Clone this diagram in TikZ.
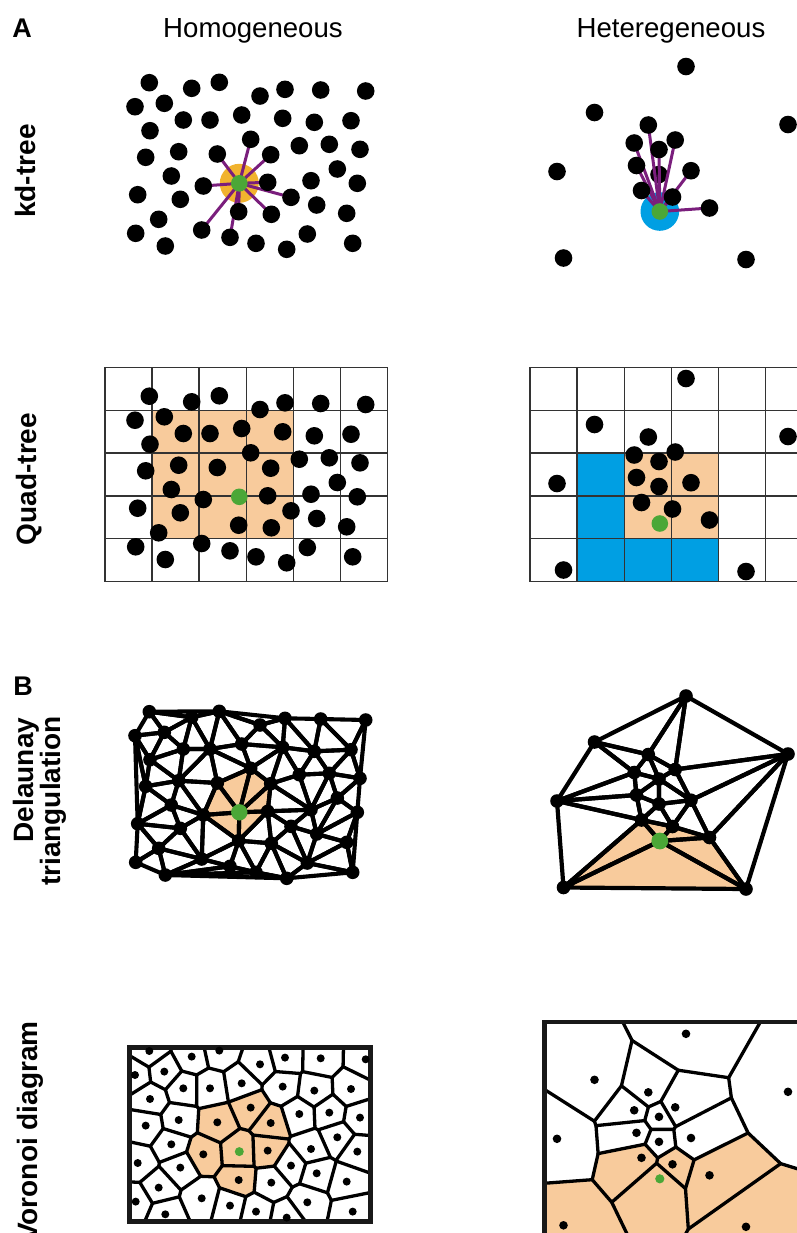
\documentclass[tikz,border=0pt]{standalone}
\usepackage{fontspec}
\setmainfont{Liberation Sans}
\usetikzlibrary{calc}
\definecolor{peach}{HTML}{F8CB9C}
\definecolor{gold}{HTML}{F1B32E}
\definecolor{grn}{HTML}{4BA737}
\definecolor{purp}{HTML}{7A1E7C}
\definecolor{blu}{HTML}{009FE3}
\definecolor{gridc}{HTML}{333333}

\def\homlist{0/239.3/183.3, 1/149.3/82.7, 2/191.7/88.3, 3/219.3/82.3, 4/135/106.7, 5/164.3/103.3, 6/260/96, 7/285/89.3, 8/320.7/90, 9/365.7/91, 10/150/130.7, 11/183.3/120, 12/210/120, 13/241.7/115, 14/282.7/118.3, 15/314.3/122.3, 16/351/120.7, 17/250.7/139.3, 18/145.7/157.3, 19/178.7/151.7, 20/217.3/154, 21/270.7/154.7, 22/299.3/145.7, 23/329.3/144.3, 24/360/149.3, 25/171.3/176, 26/337.3/169, 27/203.3/186, 28/267.7/182.3, 29/311/180.7, 30/357.3/183.3, 31/137.7/194.7, 32/180.3/199.3, 33/291/197.3, 34/316.7/205, 35/238.7/211.7, 36/271.3/214.3, 37/346.7/213.3, 38/158.7/219.3, 39/135.7/233.3, 40/201.7/230, 41/230/237.3, 42/256/243.3, 43/286.7/249.3, 44/307.3/234, 45/352.7/243.3, 46/165.3/246}

\def\hetlist{0/659.8/211.5, 1/686/66.5, 2/594.5/112.5, 3/788/124.5, 4/648.3/125, 5/634.2/143, 6/675.2/140, 7/659/149.5, 8/557/171.5, 9/636.5/165.5, 10/691/170.7, 11/659/174.5, 12/641.5/190.5, 13/672.5/197, 14/709.5/208, 15/563.5/258, 16/746/259.5}

\def\homtris{1/1/4/5,2/1/5/2,3/1/2/3,4/4/5/10,5/5/2/11,6/5/11/10,7/2/11/12,8/2/12/3,9/3/12/13,10/3/13/6,11/3/6/7,12/6/7/14,13/6/13/14,14/7/8/15,15/7/15/14,16/8/9/16,17/8/16/15,18/9/16/24,19/16/15/23,20/16/23/24,21/14/15/22,22/15/22/23,23/13/14/17,24/14/17/21,25/14/21/22,26/12/13/17,27/12/17/20,28/11/12/19,29/12/20/19,30/10/11/19,31/10/19/18,32/4/10/18,33/4/18/31,34/18/19/25,35/18/25/31,36/19/20/27,37/19/27/25,38/25/27/32,39/25/32/31,40/31/32/38,41/31/38/39,42/39/38/46,43/38/32/40,44/38/40/46,45/46/40/41,46/46/41/42,47/46/42/43,48/0/20/27,49/0/17/20,50/0/17/21,51/0/21/28,52/0/28/35,53/28/36/35,54/0/35/27,55/21/22/29,56/21/29/28,57/22/23/29,58/23/26/29,59/23/24/26,60/24/26/30,61/26/29/34,62/26/34/30,63/30/34/37,64/30/37/45,65/34/37/44,66/37/45/44,67/43/44/45,68/28/29/33,69/29/34/33,70/33/34/44,71/33/44/36,72/36/44/43,73/36/43/42,74/35/36/42,75/35/42/41,76/35/41/40,77/27/35/40,78/27/32/40,79/28/33/36}

\def\hettris{1/1/2/4,2/1/4/6,3/1/6/3,4/3/6/10,5/3/10/14,6/3/14/16,7/2/4/5,8/2/5/8,9/8/5/9,10/8/9/12,11/8/12/15,12/15/12/0,13/15/0/16,14/16/0/14,15/0/14/13,16/0/13/12,17/4/5/7,18/4/7/6,19/5/9/7,20/7/9/11,21/6/7/10,22/7/11/10,23/9/12/11,24/11/12/13,25/11/13/10,26/10/13/14}

\newcommand\defpts[3]{\foreach \Ti/\Tx/\Ty in #2 {\coordinate (#1\Ti) at (\Tx,\Ty+#3);}}

\newcommand\circc[4]{%
  \coordinate (tmA) at ($(#2)!0.5!(#3)$);
  \coordinate (tmB) at ($(tmA)!1!90:(#3)$);
  \coordinate (tmC) at ($(#2)!0.5!(#4)$);
  \coordinate (tmD) at ($(tmC)!1!90:(#4)$);
  \coordinate (#1) at (intersection of tmA--tmB and tmC--tmD);}

\newcommand\regE[4]{%
  \ifnum#1<#2\relax\edef\eA{#1}\edef\eB{#2}\else\edef\eA{#2}\edef\eB{#1}\fi
  \expandafter\ifx\csname E-\vpfx-\eA-\eB\endcsname\relax
    \expandafter\xdef\csname E-\vpfx-\eA-\eB\endcsname{#3}%
  \else
    \expandafter\xdef\csname D-\vpfx-\eA-\eB\endcsname{1}%
    \edef\tK{\csname E-\vpfx-\eA-\eB\endcsname}%
    \draw[vedge] (cc\vpfx\tK) -- (cc\vpfx#3);
  \fi}

\newcommand\rayE[4]{%
  \ifnum#1<#2\relax\edef\eA{#1}\edef\eB{#2}\else\edef\eA{#2}\edef\eB{#1}\fi
  \expandafter\ifx\csname D-\vpfx-\eA-\eB\endcsname\relax
    \coordinate (tfA) at ($(\vpfx#1)!(\vpfx#4)!(\vpfx#2)$);
    \coordinate (tfB) at ($(tfA)!-600pt!(\vpfx#4)$);
    \draw[vedge] (cc\vpfx#3) -- ($(cc\vpfx#3)+(tfB)-(tfA)$);
  \fi}

\begin{document}
\begin{tikzpicture}[x=0.5pt,y=-0.5pt,
  hdr/.style={font=\fontsize{13.8}{16}\selectfont, inner sep=0pt},
  rowlab/.style={font=\fontsize{14}{16}\selectfont\bfseries, inner sep=0pt, rotate=90},
  panlab/.style={font=\fontsize{13.5}{16}\selectfont\bfseries, inner sep=0pt},
  nnline/.style={purp, line width=1.5pt},
  gridline/.style={gridc, line width=0.65pt},
  dedge/.style={line width=2.05pt, line join=round},
  dedgeh/.style={line width=2.1pt, line join=round},
  vedge/.style={line width=1.65pt, line cap=round, line join=round}]
\useasboundingbox (0,0) rectangle (797,1233);
\clip (0,0) rectangle (797,1233);

% ---------- point sets ----------
\defpts{hk}{\homlist}{0}
\defpts{hq}{\homlist}{313.5}
\defpts{hd}{\homlist}{629}
\defpts{hv}{\homlist}{968.3}
\defpts{tk}{\hetlist}{0}
\defpts{tq}{\hetlist}{312}
\defpts{td}{\hetlist}{629.5}
\defpts{tv}{\hetlist}{967.3}

% ---------- labels ----------
\node[panlab, anchor=base west] (labA) at (12,37) {A};
\node[panlab, anchor=base west] (labB) at (13,695) {B};
\node[hdr, anchor=base] (hom) at (253,37) {Homogeneous};
\node[hdr, anchor=base] (het) at (671,37) {Heteregeneous};
\node[rowlab, anchor=base] (rkd) at (35,171) {kd-tree};
\node[rowlab, anchor=base] (rqt) at (36,479) {Quad-tree};
\node[rowlab, anchor=base] (rdl1) at (33,780) {Delaunay};
\node[rowlab, anchor=base] (rdl2) at (61,801) {triangulation};
\node[rowlab, anchor=base east] (rvd) at (37,1021) {Voronoi diagram};

% ---------- kd-tree homogeneous ----------
\fill[gold] (hk0) circle[radius=9.75pt];
\foreach \j in {20,17,21,28,33,36,35,41,40,27} \draw[nnline] (hk0) -- (hk\j);
\foreach \j in {1,...,46} \fill (hk\j) circle[radius=4.4pt];
\fill[grn] (hk0) circle[radius=4.15pt];

% ---------- kd-tree heterogeneous ----------
\fill[blu] (tk0) circle[radius=9.65pt];
\fill (tk11) circle[radius=4.4pt];
\foreach \j in {4,5,7,6,9,10,12,13,14,11} \draw[nnline] (tk0) -- (tk\j);
\foreach \j in {1,...,10,12,13,14,15,16} \fill (tk\j) circle[radius=4.4pt];
\fill[grn] (tk0) circle[radius=4.15pt];

% ---------- quad-tree homogeneous ----------
\fill[peach] (152.05,410.2) rectangle (293.2,538.8);
\foreach \x in {105,152.05,199.1,246.15,293.2,340.25,387.3} \draw[gridline] (\x,367.3) -- (\x,581.7);
\foreach \y in {367.3,410.2,453.1,495.9,538.8,581.7} \draw[gridline] (105,\y) -- (387.3,\y);
\foreach \j in {1,...,46} \fill (hq\j) circle[radius=4.4pt];
\fill[grn] (hq0) circle[radius=4.15pt];

% ---------- quad-tree heterogeneous ----------
\fill[blu] (577.1,453.1) rectangle (624.2,581.7);
\fill[blu] (577.1,538.8) rectangle (718.4,581.7);
\fill[peach] (624.2,453.1) rectangle (718.4,538.8);
\foreach \x in {530,577.1,624.2,671.3,718.4,765.5,812.6} \draw[gridline] (\x,367.3) -- (\x,581.7);
\foreach \y in {367.3,410.2,453.1,495.9,538.8,581.7} \draw[gridline] (530,\y) -- (812.6,\y);
\foreach \j in {1,...,16} \fill (tq\j) circle[radius=4.4pt];
\fill[grn] (tq0) circle[radius=4.15pt];

% ---------- Delaunay homogeneous ----------
\fill[peach] (hd28)--(hd35)--(hd27)--(hd20)--(hd17)--(hd21)--cycle;
\foreach \Tk/\Tu/\Tv/\Tw in \homtris {\draw[dedge] (hd\Tu)--(hd\Tv)--(hd\Tw)--cycle;}
\foreach \j in {1,...,46} \fill (hd\j) circle[radius=3.4pt];
\fill[grn] (hd0) circle[radius=4.1pt];

% ---------- Delaunay heterogeneous ----------
\fill[peach] (td15)--(td12)--(td13)--(td14)--(td16)--cycle;
\foreach \Tk/\Tu/\Tv/\Tw in \hettris {\draw[dedgeh] (td\Tu)--(td\Tv)--(td\Tw)--cycle;}
\foreach \j in {1,...,16} \fill (td\j) circle[radius=3.4pt];
\fill[grn] (td0) circle[radius=4.2pt];

% ---------- Voronoi homogeneous ----------
\def\vpfx{hv}
\foreach \Tk/\Tu/\Tv/\Tw in \homtris {\circc{cchv\Tk}{hv\Tu}{hv\Tv}{hv\Tw}}
\begin{scope}
\clip (129.3,1047.7) rectangle (370.7,1221.7);
\fill[peach] (cchv52)--(cchv54)--(cchv48)--(cchv49)--(cchv50)--(cchv51)--cycle;
\fill[peach] (cchv27)--(cchv49)--(cchv48)--(cchv36)--(cchv29)--cycle;
\fill[peach] (cchv23)--(cchv24)--(cchv50)--(cchv49)--(cchv27)--(cchv26)--cycle;
\fill[peach] (cchv25)--(cchv55)--(cchv56)--(cchv51)--(cchv50)--(cchv24)--cycle;
\fill[peach] (cchv56)--(cchv68)--(cchv79)--(cchv53)--(cchv52)--(cchv51)--cycle;
\fill[peach] (cchv52)--(cchv53)--(cchv74)--(cchv75)--(cchv76)--(cchv77)--(cchv54)--cycle;
\fill[peach] (cchv54)--(cchv77)--(cchv78)--(cchv38)--(cchv37)--(cchv36)--(cchv48)--cycle;
\foreach \Tk/\Tu/\Tv/\Tw in \homtris {\regE{\Tu}{\Tv}{\Tk}{\Tw}\regE{\Tv}{\Tw}{\Tk}{\Tu}\regE{\Tu}{\Tw}{\Tk}{\Tv}}
\foreach \Tk/\Tu/\Tv/\Tw in \homtris {\rayE{\Tu}{\Tv}{\Tk}{\Tw}\rayE{\Tv}{\Tw}{\Tk}{\Tu}\rayE{\Tu}{\Tw}{\Tk}{\Tv}}
\end{scope}
\draw[line width=2.4pt, draw=black!90] (129.3,1047.7) rectangle (370.7,1221.7);
\foreach \j in {1,...,46} \fill (hv\j) circle[radius=2pt];
\fill[grn] (hv0) circle[radius=2.25pt];

% ---------- Voronoi heterogeneous ----------
\def\vpfx{tv}
\foreach \Tk/\Tu/\Tv/\Tw in \hettris {\circc{cctv\Tk}{tv\Tu}{tv\Tv}{tv\Tw}}
\coordinate (tfa) at ($(tv8)!(tv12)!(tv15)$);
\coordinate (tfb) at ($(tfa)!-600pt!(tv12)$);
\coordinate (r815) at ($(cctv11)+(tfb)-(tfa)$);
\coordinate (tfa) at ($(tv15)!(tv0)!(tv16)$);
\coordinate (tfb) at ($(tfa)!-600pt!(tv0)$);
\coordinate (r1516) at ($(cctv13)+(tfb)-(tfa)$);
\coordinate (tfa) at ($(tv3)!(tv14)!(tv16)$);
\coordinate (tfb) at ($(tfa)!-600pt!(tv14)$);
\coordinate (r316) at ($(cctv6)+(tfb)-(tfa)$);
\begin{scope}
\clip (544.3,1021.7) rectangle (840,1270);
\fill[peach] (cctv12)--(cctv13)--(cctv14)--(cctv15)--(cctv16)--cycle;
\fill[peach] (cctv10)--(cctv23)--(cctv24)--(cctv16)--(cctv12)--(cctv11)--cycle;
\fill[peach] (cctv24)--(cctv25)--(cctv26)--(cctv15)--(cctv16)--cycle;
\fill[peach] (cctv5)--(cctv26)--(cctv15)--(cctv14)--(cctv6)--cycle;
\fill[peach] (r815)--(cctv11)--(cctv12)--(cctv13)--(r1516)--(r815 |- r1516)--cycle;
\fill[peach] (r1516)--(cctv13)--(cctv14)--(cctv6)--(r316)--(r316 |- r1516)--cycle;
\foreach \Tk/\Tu/\Tv/\Tw in \hettris {\regE{\Tu}{\Tv}{\Tk}{\Tw}\regE{\Tv}{\Tw}{\Tk}{\Tu}\regE{\Tu}{\Tw}{\Tk}{\Tv}}
\foreach \Tk/\Tu/\Tv/\Tw in \hettris {\rayE{\Tu}{\Tv}{\Tk}{\Tw}\rayE{\Tv}{\Tw}{\Tk}{\Tu}\rayE{\Tu}{\Tw}{\Tk}{\Tv}}
\end{scope}
\draw[line width=2.2pt, draw=black!90] (544.3,1270) -- (544.3,1021.7) -- (840,1021.7);
\foreach \j in {1,...,16} \fill (tv\j) circle[radius=2.15pt];
\fill[grn] (tv0) circle[radius=2.3pt];
\end{tikzpicture}
\end{document}
